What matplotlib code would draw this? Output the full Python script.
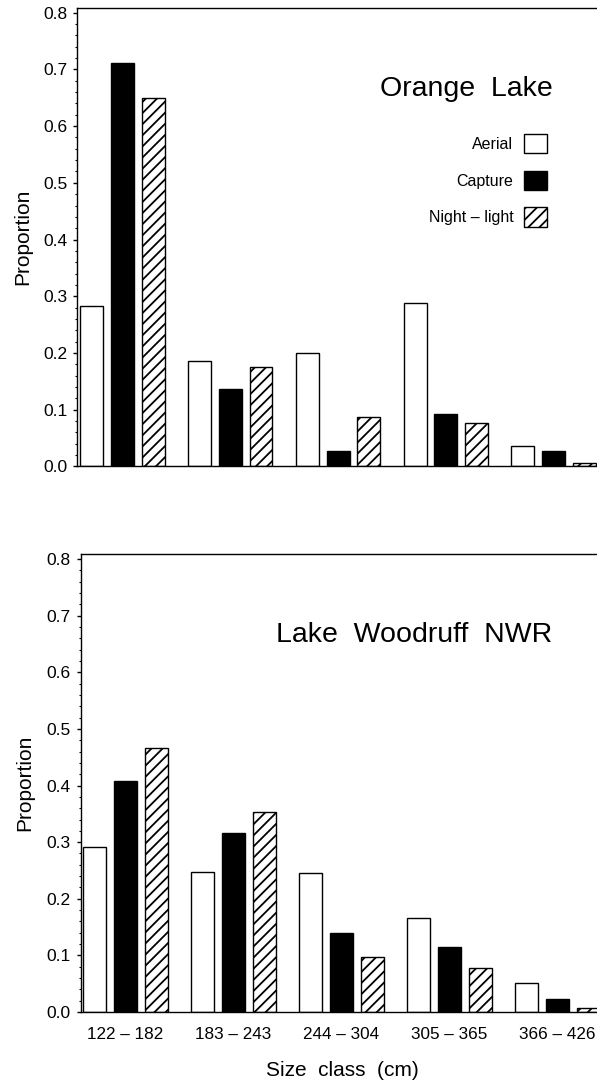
import matplotlib
matplotlib.use("Agg")
import matplotlib.pyplot as plt
from matplotlib.patches import Patch
from matplotlib.ticker import MultipleLocator, FormatStrFormatter
import numpy as np

plt.rcParams['font.family'] = ['Liberation Sans', 'DejaVu Sans']
plt.rcParams['hatch.linewidth'] = 1.3

# ---- data ----
size_classes = ['122 – 182', '183 – 243', '244 – 304', '305 – 365', '366 – 426']
methods = ['Aerial', 'Capture', 'Night – light']

orange_aerial = [0.283, 0.186, 0.200, 0.289, 0.037]
orange_capture = [0.711, 0.137, 0.028, 0.093, 0.028]
orange_night = [0.650, 0.176, 0.087, 0.077, 0.006]

woodruff_aerial = [0.291, 0.247, 0.245, 0.166, 0.051]
woodruff_capture = [0.408, 0.316, 0.139, 0.115, 0.023]
woodruff_night = [0.466, 0.353, 0.097, 0.078, 0.007]

yticks = [0.0, 0.1, 0.2, 0.3, 0.4, 0.5, 0.6, 0.7, 0.8]

# ---- layout ----
W, H = 597, 1086
fig = plt.figure(figsize=(W / 100, H / 100), dpi=100)


def fig_rect(x0, y_top, x1, y_bot):
    return [x0 / W, 1 - y_bot / H, (x1 - x0) / W, (y_bot - y_top) / H]


ax1 = fig.add_axes(fig_rect(77, 7.5, 596.5, 466.5))
ax2 = fig.add_axes(fig_rect(80.5, 554, 596.5, 1012))

styles = [
    dict(facecolor='white', edgecolor='black', hatch=None),
    dict(facecolor='black', edgecolor='black', hatch=None),
    dict(facecolor='white', edgecolor='black', hatch='///'),
]
offset = 0.285
width = 0.213


def draw_panel(ax, series, title, xlim, title_xy, show_xlabels):
    x = np.arange(len(size_classes))
    for k, (vals, st) in enumerate(zip(series, styles)):
        ax.bar(x + (k - 1) * offset, vals, width=width, linewidth=1.0,
               facecolor=st['facecolor'], edgecolor=st['edgecolor'],
               hatch=st['hatch'], zorder=2)
    ax.set_xlim(*xlim)
    ax.set_ylim(0, 0.809)
    ax.set_yticks(yticks)
    ax.yaxis.set_major_formatter(FormatStrFormatter('%.1f'))
    ax.yaxis.set_minor_locator(MultipleLocator(0.02))
    ax.tick_params(axis='y', which='major', direction='out', length=3, width=1,
                   pad=4, labelsize=12.5)
    ax.tick_params(axis='y', which='minor', direction='out', length=1.6, width=0.8)
    ax.set_xticks(x)
    if show_xlabels:
        ax.set_xticklabels(size_classes, fontsize=12.3)
        ax.tick_params(axis='x', length=0, pad=11)
    else:
        ax.set_xticklabels([])
        ax.tick_params(axis='x', length=0)
    for s in ax.spines.values():
        s.set_linewidth(1.0)
    ax.text(title_xy[0], title_xy[1], title, transform=ax.transAxes,
            ha='right', va='baseline', fontsize=20.5)
    ax.set_ylabel('Proportion', fontsize=15)


draw_panel(ax1, [orange_aerial, orange_capture, orange_night], 'Orange  Lake',
           (-0.422, 4.397), ((553 - 77) / 519.5, (466.5 - 95.7) / 459), False)
draw_panel(ax2, [woodruff_aerial, woodruff_capture, woodruff_night],
           'Lake  Woodruff  NWR',
           (-0.417, 4.361), ((552.7 - 80.5) / 516, (1012 - 641.7) / 458), True)

ax1.spines['right'].set_linewidth(0.6)
ax2.spines['right'].set_visible(False)

ax1.yaxis.set_label_coords((32 - 77) / 519.5, 0.5)
ax2.yaxis.set_label_coords((34 - 80.5) / 516, 0.5)

# legend (top panel)
handles = [Patch(facecolor=st['facecolor'], edgecolor='black', linewidth=1.0,
                 hatch=st['hatch']) for st in styles]
fs = 11.5
fs_px = fs * 100 / 72
ax1.legend(handles, methods, markerfirst=False, loc='upper right',
           bbox_to_anchor=(546.7 / W, 1 - 134 / H),
           bbox_transform=fig.transFigure, frameon=False, fontsize=fs,
           borderpad=0, borderaxespad=0,
           handlelength=22.4 / fs_px, handleheight=23.4 / fs_px,
           labelspacing=1.1, handletextpad=11 / fs_px)

fig.text(342.5 / W, 1 - 1071 / H, 'Size  class  (cm)', ha='center',
         va='center', fontsize=15)

fig.savefig('out.png', dpi=100)
